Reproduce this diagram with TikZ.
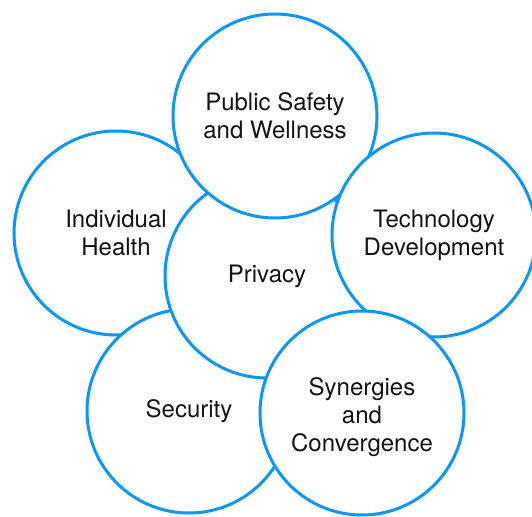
\documentclass[tikz,border=0pt]{standalone}
\usepackage{fontspec}
\setmainfont{TeX Gyre Heros}
\definecolor{ringblue}{RGB}{12,150,245}
\definecolor{labelgray}{RGB}{20,20,20}
\begin{document}
\begin{tikzpicture}[x=1pt,y=-1pt,
  topictext/.style={align=center, text=labelgray,
    font=\fontsize{24}{28}\selectfont},
  topic/.style={circle, draw=ringblue, line width=3pt, fill=white,
    minimum size=204pt, inner sep=0pt, topictext}]
\useasboundingbox (0,0) rectangle (532,516);
% drawn back to front so later circles overlap earlier ones
\node[topic] (health)    at (116,233) {Individual\\Health};
\node[topic] (security)  at (189,411) {Security};
\node[topic] (privacy)   at (267,276) {Privacy};
\node[topic] (safety)    at (275,116) {Public Safety\\and Wellness};
\node[topic] (tech)      at (434,235) {Technology\\Development};
\node[topic] (synergies) at (362,413) {};
\node[topictext] (synergiestext) at ([yshift=-4pt]synergies.center)
  {Synergies\\and\\Convergence};
\end{tikzpicture}
\end{document}
